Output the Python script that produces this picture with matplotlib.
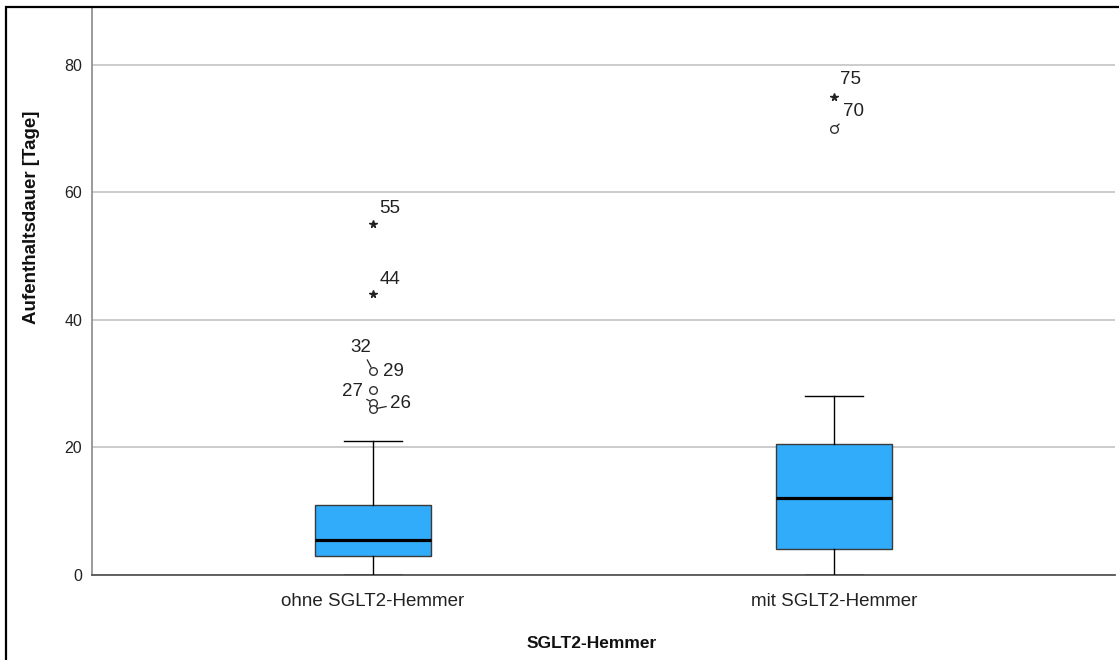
import matplotlib
matplotlib.use("Agg")
import matplotlib.pyplot as plt
from matplotlib.patches import Rectangle

plt.rcParams['font.family'] = ['Liberation Sans', 'DejaVu Sans']

# ---- data ----
categories = ["ohne SGLT2-Hemmer", "mit SGLT2-Hemmer"]
whislo = [0, 0]
q1 = [3, 4]
med = [5.5, 12]
q3 = [11, 20.5]
whishi = [21, 28]

# outliers (circles) and extremes (stars): group index, value, case label
circle_group = [0, 0, 0, 0, 1]
circle_value = [32, 29, 27, 26, 70]
circle_label = ["32", "29", "27", "26", "70"]
star_group = [0, 0, 1]
star_value = [55, 44, 75]
star_label = ["55", "44", "75"]

y_ticks = [0, 20, 40, 60, 80]
x_title = "SGLT2-Hemmer"
y_title = "Aufenthaltsdauer [Tage]"

# label offsets (points) and whether a leader line is drawn
circle_offsets = [(-9, 17), (15, 13), (-15, 8), (20, 4), (14, 12)]
circle_leader = [True, False, True, True, True]
star_offsets = [(12, 11), (12, 11), (12, 12)]

box_color = "#31ACFA"

fig = plt.figure(figsize=(11.19, 6.6), dpi=100)
ax = fig.add_axes([92/1119, 85/660, (1115-92)/1119, (575-8)/660])

stats = []
for i in range(len(categories)):
    stats.append(dict(whislo=whislo[i], q1=q1[i], med=med[i], q3=q3[i],
                      whishi=whishi[i], fliers=[], label=categories[i]))

ax.bxp(stats, positions=list(range(len(categories))), widths=0.25,
       patch_artist=True, showfliers=False,
       boxprops=dict(facecolor=box_color, edgecolor="#3a3a3a", linewidth=1.0),
       medianprops=dict(color="black", linewidth=2.3),
       whiskerprops=dict(color="black", linewidth=1.0),
       capprops=dict(color="black", linewidth=1.0),
       capwidths=0.125, zorder=3)

# outlier markers
ax.plot(circle_group, circle_value, linestyle="none", marker="o", markersize=5.5,
        markerfacecolor="white", markeredgecolor="#333333", markeredgewidth=1.0, zorder=4)
ax.plot(star_group, star_value, linestyle="none", marker="*", markersize=5.5,
        color="#222222", zorder=4)

for g, v, lab, off, lead in zip(circle_group, circle_value, circle_label,
                                 circle_offsets, circle_leader):
    ap = dict(arrowstyle="-", color="#222222", lw=0.9, shrinkA=1, shrinkB=3) if lead else None
    ax.annotate(lab, xy=(g, v), xytext=off, textcoords="offset points",
                ha="center", va="center", fontsize=13.5, color="#222222",
                arrowprops=ap, zorder=5)
for g, v, lab, off in zip(star_group, star_value, star_label, star_offsets):
    ax.annotate(lab, xy=(g, v), xytext=off, textcoords="offset points",
                ha="center", va="center", fontsize=13.5, color="#222222", zorder=5)

ax.set_xlim(-0.61, 1.61)
ax.set_ylim(0, 88.9)
ax.set_yticks(y_ticks)
ax.set_yticklabels([str(t) for t in y_ticks])
ax.set_xticks(range(len(categories)))
ax.set_xticklabels(categories)
ax.tick_params(axis="y", length=0, pad=7, labelsize=11.5, labelcolor="#222222")
ax.tick_params(axis="x", length=0, pad=13, labelsize=13.5, labelcolor="#222222")

ax.yaxis.grid(True, color="#C8C8C8", linewidth=1.3, zorder=0)
ax.set_axisbelow(True)
for s in ["top", "right"]:
    ax.spines[s].set_visible(False)
ax.spines["left"].set_color("#8a8a8a")
ax.spines["left"].set_linewidth(1.2)
ax.spines["bottom"].set_color("#555555")
ax.spines["bottom"].set_linewidth(1.3)

ax.set_xlabel(x_title, fontsize=12.5, fontweight="bold", color="#111111")
ax.set_ylabel(y_title, fontsize=13.5, fontweight="bold", color="#111111")
ax.xaxis.set_label_coords(0.488, -0.1076)
ax.yaxis.set_label_coords(-52/1023, 0.631)

# figure frame (right and bottom edges fall outside the image)
fig.patches.append(Rectangle((6/1119, -0.1), 1.2, (660-7)/660 + 0.1,
                             transform=fig.transFigure, fill=False,
                             edgecolor="black", linewidth=1.6, zorder=10))

fig.savefig("out.png", dpi=100)
